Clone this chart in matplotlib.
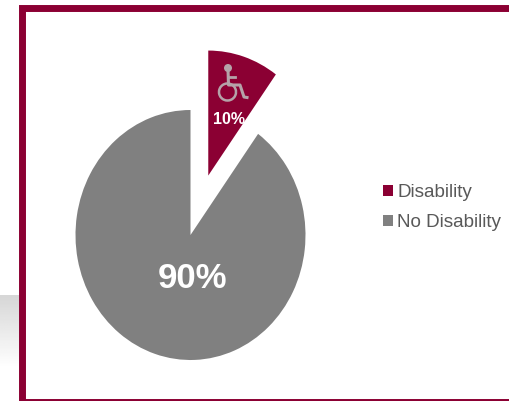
import numpy as np
import matplotlib
matplotlib.use("Agg")
import matplotlib.pyplot as plt
from matplotlib.patches import Rectangle, Circle, Arc
from matplotlib.lines import Line2D

plt.rcParams['font.family'] = ['Liberation Sans', 'DejaVu Sans']

categories = ["Disability", "No Disability"]
shares = [10, 90]
share_labels = ["10%", "90%"]
colors = ["#8B0033", "#808080"]
FRAME = "#8B0033"
W, H = 510, 401

fig = plt.figure(figsize=(W / 100, H / 100), dpi=100, facecolor="white")

# pale gradient strip behind the panel's left edge
bg = fig.add_axes([0, 0, 1, 1], zorder=0)
ramp = np.linspace(0.84, 1.0, 64).reshape(-1, 1)
bg.imshow(ramp, cmap="gray", vmin=0, vmax=1, extent=[0, 19, 368, 295], aspect="auto")
bg.set_xlim(0, W)
bg.set_ylim(H, 0)
bg.axis("off")

# panel frame, running off the right and bottom edges
bg.add_patch(Rectangle((22, 7.5), W, H - 7, fc="white", ec=FRAME, lw=5, zorder=2))

# the pie fills a stretched axes: one data unit is 115 px across, 125 px up
ax = fig.add_axes([0, 0, 1, 1], zorder=1)
ax.patch.set_alpha(0)
wedges, _ = ax.pie(shares, colors=colors, explode=[0.5, 0], startangle=90,
                   counterclock=False, frame=False,
                   wedgeprops=dict(linewidth=0))
ax.set_aspect("auto")
cx, cy, rx, ry = 190.5, 235, 115, 125
ax.set_xlim((0 - cx) / rx, (W - cx) / rx)
ax.set_ylim((cy - H) / ry, cy / ry)
ax.axis("off")

# percentage labels
fig.text(229 / W, 1 - 119 / H, share_labels[0], color="white", fontsize=11.5,
         fontweight="bold", ha="center", va="center", zorder=5)
fig.text(193 / W, 1 - 279 / H, share_labels[1], color="white", fontsize=25,
         fontweight="bold", ha="center", va="center", zorder=5)

# wheelchair pictogram, in pixel coordinates on an overlay
ov = fig.add_axes([0, 0, 1, 1], zorder=4)
ov.set_xlim(0, W)
ov.set_ylim(H, 0)
ov.axis("off")
icon = "#B5A3A9"
ov.add_patch(Circle((228, 68), 4, fc=icon, ec="none"))
ov.add_patch(Arc((227.5, 92), 17, 17, theta1=0, theta2=360, ec=icon, lw=1.8))
ov.add_line(Line2D([228, 228.5, 240, 244, 247],
                   [70, 85, 85, 97, 97.5], color=icon, lw=2.2))
ov.add_line(Line2D([228, 235], [76.5, 76.5], color=icon, lw=2))

# legend
handles = [Rectangle((0, 0), 1, 1, fc=c, ec="none") for c in colors]
fig.legend(handles, categories, loc="upper left",
           bbox_to_anchor=(383 / W, 1 - 184 / H), frameon=False,
           fontsize=13.6, labelcolor="#595959", handlelength=0.54,
           handleheight=0.54, handletextpad=0.22, labelspacing=0.68,
           borderpad=0, borderaxespad=0)

fig.savefig("out.png", dpi=100, facecolor="white")
